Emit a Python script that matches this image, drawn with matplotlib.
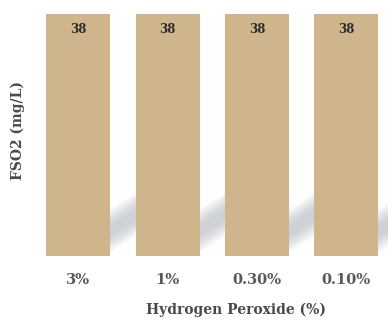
import matplotlib.pyplot as plt
from matplotlib.patches import Polygon

categories = ['3%', '1%', '0.30%', '0.10%']
fso2 = [38, 38, 38, 38]

bar_color = '#CEB58B'
shadow_color = '#A9ADB6'
font = 'DejaVu Serif'

fig = plt.figure(figsize=(3.88, 3.2), dpi=100)
ax = fig.add_axes([40 / 388, 0.2, 1 - 40 / 388, 0.75625])

x = list(range(len(categories)))
width = 0.715
bars = ax.bar(x, fso2, width=width, color=bar_color, zorder=3)

# soft diagonal shadow behind each bar (layered polygons fake a blur)
slope = 9.0
for xi in x:
    xr = xi + width / 2
    for i in range(8):
        lo, hi = 0.6 + 0.35 * i, 7.3 - 0.35 * i
        x0, x1 = xr - 0.1, xr + 0.3
        pts = [(x0, lo + slope * (x0 - xr)), (x1, lo + slope * (x1 - xr)),
               (x1, hi + slope * (x1 - xr)), (x0, hi + slope * (x0 - xr))]
        ax.add_patch(Polygon(pts, closed=True, facecolor=shadow_color,
                             edgecolor='none', alpha=0.09, zorder=1))

for b, v in zip(bars, fso2):
    ax.text(b.get_x() + b.get_width() / 2, v - 2.4, str(v), ha='center', va='center',
            fontsize=8.5, fontweight='bold', family=font, color='#2b2b2b', zorder=4)

ax.set_xlim(-0.425, 3.464)
ax.set_ylim(0, 38)
ax.set_xticks(x)
ax.set_xticklabels(categories, fontsize=10.5, fontweight='bold', family=font, color='#595959')
ax.tick_params(axis='x', length=0, pad=12)
ax.set_yticks([])
for s in ax.spines.values():
    s.set_visible(False)

fig.text(236 / 388, 1 - 310 / 320, 'Hydrogen Peroxide (%)', ha='center', va='center',
         fontsize=10, fontweight='bold', family=font, color='#4a4a4a')
fig.text(18 / 388, 1 - 130 / 320, 'FSO2 (mg/L)', ha='center', va='center', rotation=90,
         fontsize=10, fontweight='bold', family=font, color='#4a4a4a')

plt.savefig('out.png', dpi=100)
